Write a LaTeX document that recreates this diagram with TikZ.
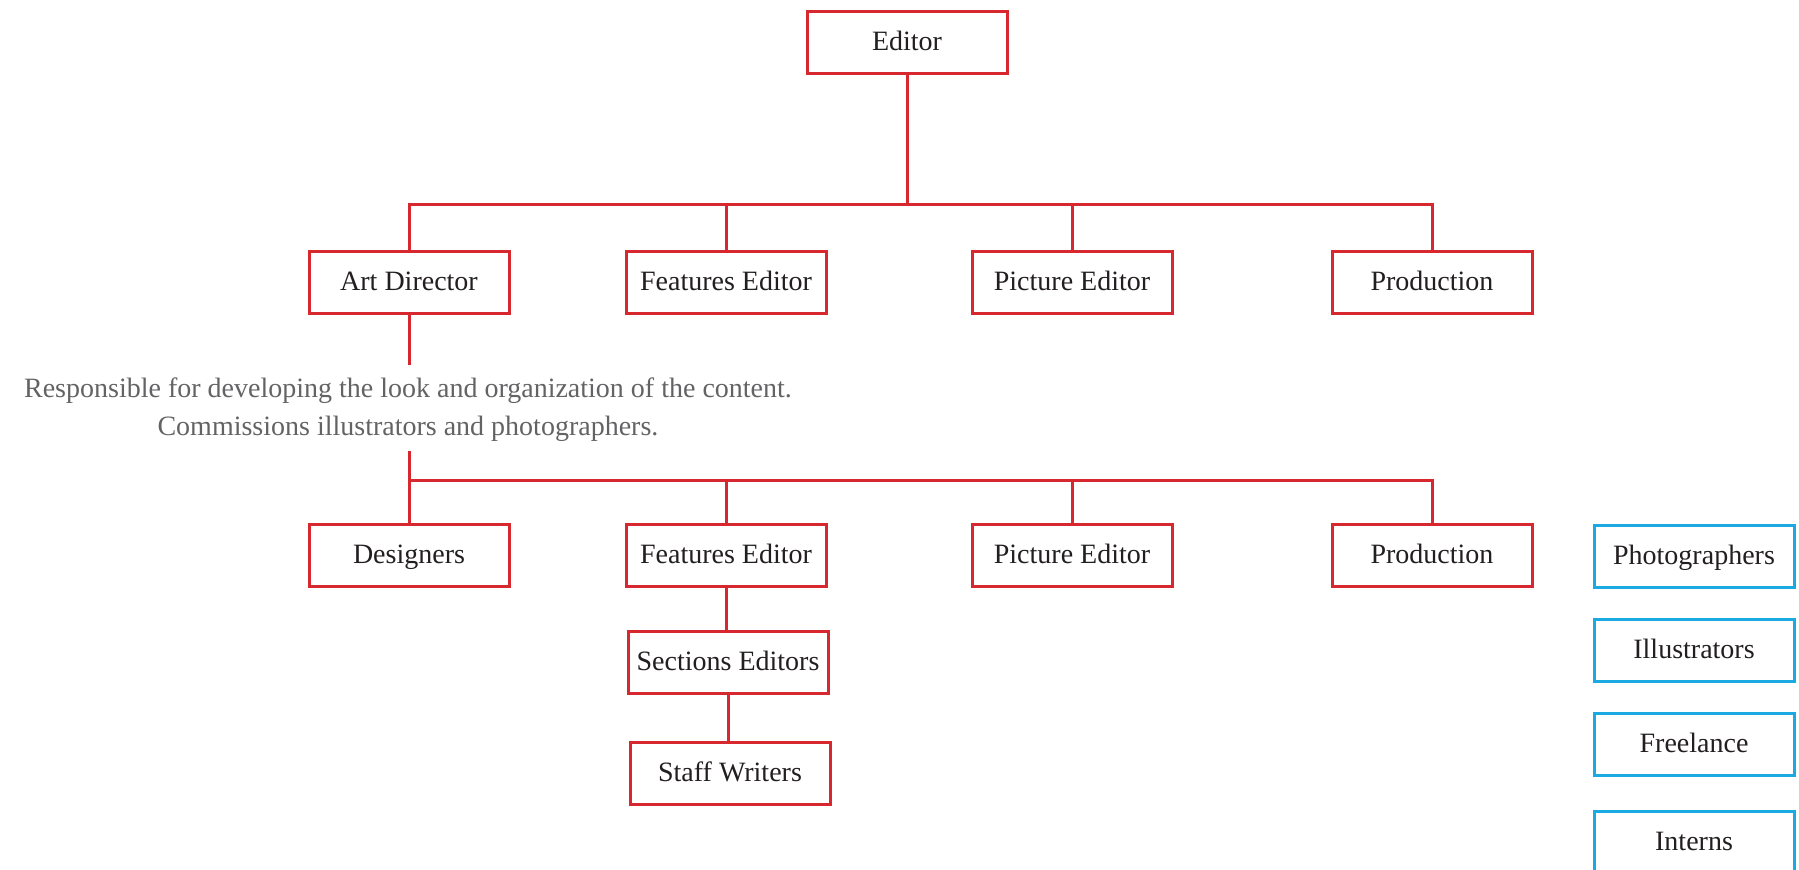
\documentclass[tikz,border=0pt]{standalone}
\usepackage{fontspec}
\setmainfont{Liberation Serif}
\definecolor{chartred}{HTML}{D7282F}
\definecolor{chartblue}{HTML}{1BA9E1}
\definecolor{inktext}{HTML}{231F20}
\definecolor{notetext}{HTML}{636365}
\begin{document}
\begin{tikzpicture}[x=0.5pt,y=-0.5pt,
  role/.style={draw=chartred, line width=1.5pt, fill=white,
    minimum width=100pt, minimum height=31pt, inner sep=0pt,
    text height=9.6pt, text depth=0.9pt,
    text=inktext, font=\fontsize{14}{16}\selectfont},
  extra/.style={role, draw=chartblue},
  link/.style={draw=chartred, line width=1.5pt},
  note/.style={text=notetext, align=center, inner sep=0pt,
    font=\fontsize{14}{19}\selectfont}]
\useasboundingbox (0,0) rectangle (1799,869);
\clip (0,0) rectangle (1799,869);

% top level
\node[role] (editor) at (907,42) {Editor};

% department heads
\node[role] (art)   at (409,282)  {Art Director};
\node[role] (feat)  at (726,282)  {Features Editor};
\node[role] (pict)  at (1072,282) {Picture Editor};
\node[role] (prod)  at (1432,282) {Production};

% second level
\node[role] (design) at (409,555)  {Designers};
\node[role] (feat2)  at (726,555)  {Features Editor};
\node[role] (pict2)  at (1072,555) {Picture Editor};
\node[role] (prod2)  at (1432,555) {Production};
\node[role] (sect)   at (728,662)  {Sections Editors};
\node[role] (staff)  at (730,773)  {Staff Writers};

% outside contributors
\node[extra] (photo)  at (1694,556) {Photographers};
\node[extra] (illus)  at (1694,650) {Illustrators};
\node[extra] (free)   at (1694,744) {Freelance};
\node[extra] (intern) at (1694,842) {Interns};

% role description under the art director
\node[note] (brief) at (408,410)
  {Responsible for developing the look and organization of the content.\\
   Commissions illustrators and photographers.};

% bus lines
\coordinate (bus1) at (907,204);
\coordinate (bus2) at (409,480);
\coordinate (artstub) at (409,365);
\coordinate (notestub) at (409,451);

\draw[link] (editor.south) -- (bus1);
\draw[link] (art.north) -- (art.north |- bus1) -- (prod.north |- bus1) -- (prod.north);
\draw[link] (feat.north) -- (feat.north |- bus1);
\draw[link] (pict.north) -- (pict.north |- bus1);

\draw[link] (art.south) -- (artstub);
\draw[link] (notestub) -- (bus2);
\draw[link] (design.north) -- (bus2) -- (prod2.north |- bus2) -- (prod2.north);
\draw[link] (feat2.north) -- (feat2.north |- bus2);
\draw[link] (pict2.north) -- (pict2.north |- bus2);

\draw[link] (feat2.south) -- (feat2.south |- sect.north);
\draw[link] (sect.south) -- (sect.south |- staff.north);
\end{tikzpicture}
\end{document}
